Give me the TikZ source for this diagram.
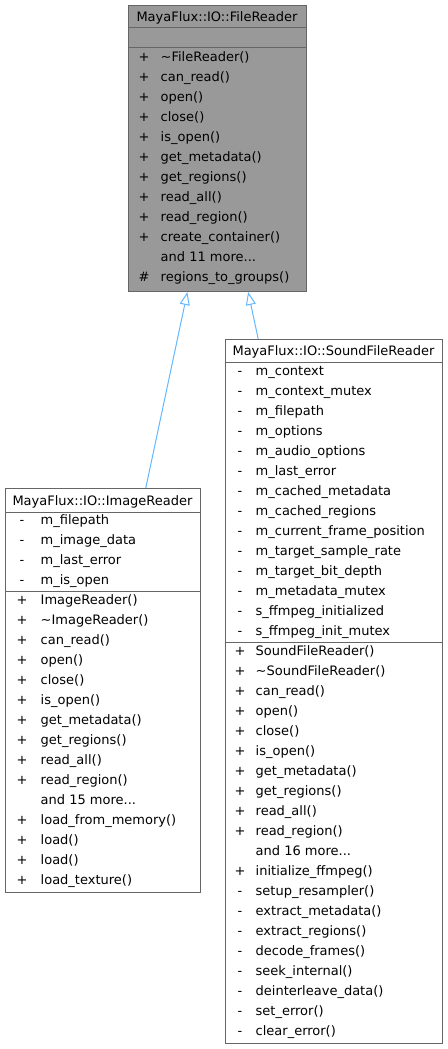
\documentclass[tikz,border=0pt]{standalone}
\usepackage{fontspec}
\setmainfont{DejaVu Sans}
\usetikzlibrary{arrows.meta}
\definecolor{boxborder}{HTML}{666666}
\definecolor{basefill}{HTML}{999999}
\definecolor{edgeblue}{HTML}{63B8FF}
\tikzset{
  cls/.style={draw=boxborder, line width=1pt, inner sep=0pt, anchor=north west, fill=white},
  ttl/.style={inner sep=0pt, anchor=base},
  sym/.style={inner sep=0pt, anchor=base},
  mem/.style={inner sep=0pt, anchor=base west},
  sep/.style={draw=boxborder, line width=1pt},
  inh/.style={draw=edgeblue, line width=1pt, -{Triangle[fill=white, length=13pt, width=10pt]}}
}
\begin{document}
\begin{tikzpicture}[x=1pt, y=-1pt, font=\fontsize{13}{15}\selectfont]
\fill[white] (0,0) rectangle (447,1049);
\useasboundingbox (0,0) rectangle (447,1049);

% ---------------- FileReader ----------------
\node[cls, fill=basefill, minimum width=178pt, minimum height=286pt] (fr) at (128,5) {};
\draw[sep] ([yshift=-23pt]fr.north west) -- ([yshift=-23pt]fr.north east);
\draw[sep] ([yshift=-43pt]fr.north west) -- ([yshift=-43pt]fr.north east);
\node[ttl] (fr-t) at (217,21.5) {MayaFlux::IO::FileReader};
\foreach \s/\n [count=\i from 0] in {
  +/{\textasciitilde FileReader()},
  +/{can\_read()},
  +/{open()},
  +/{close()},
  +/{is\_open()},
  +/{get\_metadata()},
  +/{get\_regions()},
  +/{read\_all()},
  +/{read\_region()},
  +/{create\_container()},
  {}/{and 11 more...},
  \#/{regions\_to\_groups()}}{
  \node[sym] (fr-s\i) at (144,{61.5+20*\i}) {\s};
  \node[mem] (fr-n\i) at (160.5,{61.5+20*\i}) {\n};
}

% ---------------- ImageReader ----------------
\node[cls, minimum width=195pt, minimum height=404pt] (img) at (5,488) {};
\draw[sep] ([yshift=-24pt]img.north west) -- ([yshift=-24pt]img.north east);
\draw[sep] ([yshift=-103pt]img.north west) -- ([yshift=-103pt]img.north east);
\node[ttl] (img-t) at (102.5,505) {MayaFlux::IO::ImageReader};
\foreach \s/\n [count=\i from 0] in {
  -/{m\_filepath},
  -/{m\_image\_data},
  -/{m\_last\_error},
  -/{m\_is\_open}}{
  \node[sym] (img-as\i) at (22,{524.5+20*\i}) {\s};
  \node[mem] (img-an\i) at (40.5,{524.5+20*\i}) {\n};
}
\foreach \s/\n [count=\i from 0] in {
  +/{ImageReader()},
  +/{\textasciitilde ImageReader()},
  +/{can\_read()},
  +/{open()},
  +/{close()},
  +/{is\_open()},
  +/{get\_metadata()},
  +/{get\_regions()},
  +/{read\_all()},
  +/{read\_region()},
  {}/{and 15 more...},
  +/{load\_from\_memory()},
  +/{load()},
  +/{load()},
  +/{load\_texture()}}{
  \node[sym] (img-ms\i) at (22,{604.5+20*\i}) {\s};
  \node[mem] (img-mn\i) at (40.5,{604.5+20*\i}) {\n};
}

% ---------------- SoundFileReader ----------------
\node[cls, minimum width=217pt, minimum height=704pt] (sfr) at (225,339) {};
\draw[sep] ([yshift=-23pt]sfr.north west) -- ([yshift=-23pt]sfr.north east);
\draw[sep] ([yshift=-303pt]sfr.north west) -- ([yshift=-303pt]sfr.north east);
\node[ttl] (sfr-t) at (333.5,355.5) {MayaFlux::IO::SoundFileReader};
\foreach \s/\n [count=\i from 0] in {
  -/{m\_context},
  -/{m\_context\_mutex},
  -/{m\_filepath},
  -/{m\_options},
  -/{m\_audio\_options},
  -/{m\_last\_error},
  -/{m\_cached\_metadata},
  -/{m\_cached\_regions},
  -/{m\_current\_frame\_position},
  -/{m\_target\_sample\_rate},
  -/{m\_target\_bit\_depth},
  -/{m\_metadata\_mutex},
  -/{s\_ffmpeg\_initialized},
  -/{s\_ffmpeg\_init\_mutex}}{
  \node[sym] (sfr-as\i) at (240,{375.5+20*\i}) {\s};
  \node[mem] (sfr-an\i) at (255.5,{375.5+20*\i}) {\n};
}
\foreach \s/\n [count=\i from 0] in {
  +/{SoundFileReader()},
  +/{\textasciitilde SoundFileReader()},
  +/{can\_read()},
  +/{open()},
  +/{close()},
  +/{is\_open()},
  +/{get\_metadata()},
  +/{get\_regions()},
  +/{read\_all()},
  +/{read\_region()},
  {}/{and 16 more...},
  +/{initialize\_ffmpeg()},
  -/{setup\_resampler()},
  -/{extract\_metadata()},
  -/{extract\_regions()},
  -/{decode\_frames()},
  -/{seek\_internal()},
  -/{deinterleave\_data()},
  -/{set\_error()},
  -/{clear\_error()}}{
  \node[sym] (sfr-ms\i) at (240,{655.5+20*\i}) {\s};
  \node[mem] (sfr-mn\i) at (255.5,{655.5+20*\i}) {\n};
}

% ---------------- inheritance ----------------
\draw[inh] (img) -- (fr);
\draw[inh] (sfr) -- (fr);
\end{tikzpicture}
\end{document}
